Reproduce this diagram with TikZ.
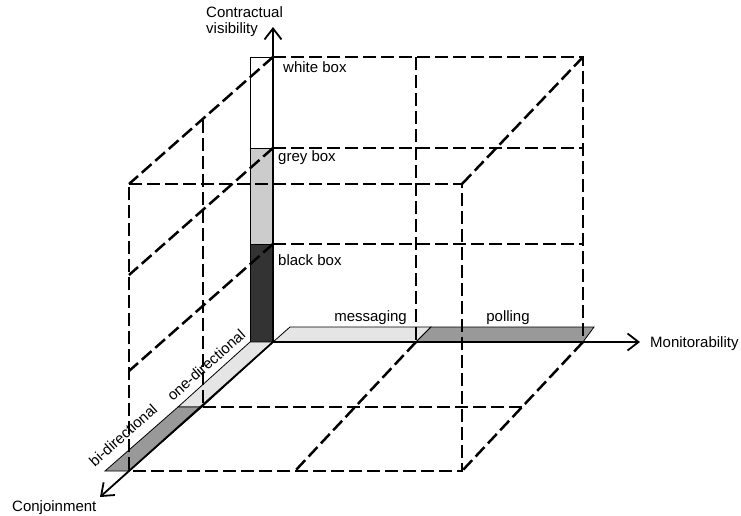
\documentclass[tikz,border=0pt]{standalone}
\usepackage{fontspec}
\setmainfont{Liberation Sans}
\usetikzlibrary{arrows.meta}
\begin{document}
\begin{tikzpicture}[x=1pt,y=-1pt,
  gridline/.style={line width=2.5pt, dash pattern=on 13pt off 5pt, line cap=butt},
  axisline/.style={line width=1.8pt, -{Straight Barb[length=11pt,width=17pt]}},
  barpart/.style={draw=black, line width=0.8pt, line join=miter},
  lbl/.style={font=\fontsize{15}{16}\selectfont, inner sep=0pt}]
\useasboundingbox (0,0) rectangle (741,515);

% origin and axis tips
\coordinate (O) at (273,342);
\coordinate (vtip) at (273,27);
\coordinate (htip) at (640,342);
\coordinate (dtip) at (100,497);

% back plane corners
\coordinate (b0) at (273,57);
\coordinate (bm) at (416,57);
\coordinate (br) at (583,57);
\coordinate (b1) at (273,148);
\coordinate (b2) at (273,244);
\coordinate (b1r) at (583,148);
\coordinate (b2r) at (583,244);
\coordinate (bmb) at (416,342);
\coordinate (brb) at (583,342);

% front plane corners
\coordinate (f0) at (129,184);
\coordinate (fr) at (462,184);
\coordinate (f1) at (129,275);
\coordinate (f2) at (129,371);
\coordinate (fb) at (129,471);
\coordinate (frb) at (462,471);
\coordinate (fmb) at (295,471);

% middle depth
\coordinate (m0) at (203,120);
\coordinate (mb) at (203,407);
\coordinate (mrb) at (523,407);

% ---- bars ----
% vertical bar
\filldraw[barpart, fill=white] (250,57) rectangle (273,148);
\filldraw[barpart, fill=black!20] (250,148) rectangle (273,244);
\filldraw[barpart, fill=black!80] (250,244) rectangle (273,342);
% horizontal bar
\filldraw[barpart, fill=black!10] (273,342) -- (416,342) -- (431,327) -- (290,327) -- cycle;
\filldraw[barpart, fill=black!40] (416,342) -- (583,342) -- (594,327) -- (431,327) -- cycle;
% depth bar
\filldraw[barpart, fill=black!10] (273,342) -- (250,342) -- (178,407) -- (202,407) -- cycle;
\filldraw[barpart, fill=black!40] (202,407) -- (178,407) -- (105,471) -- (129,471) -- cycle;

% ---- dashed grid ----
% back plane
\draw[gridline] (b0) -- (br) -- (brb);
\draw[gridline] (bm) -- (bmb);
\draw[gridline] (b1) -- (b1r);
\draw[gridline] (b2) -- (b2r);
% side plane
\draw[gridline] (b0) -- (f0);
\draw[gridline] (b1) -- (f1);
\draw[gridline] (b2) -- (f2);
\draw[gridline] (m0) -- (mb);
% front plane
\draw[gridline] (f0) -- (fr) -- (frb) -- (fb) -- cycle;
\draw[gridline] (br) -- (fr);
% bottom plane
\draw[gridline] (mb) -- (mrb);
\draw[gridline] (brb) -- (frb);
\draw[gridline] (bmb) -- (fmb);

% ---- axes ----
\draw[axisline] (O) -- (vtip);
\draw[axisline] (O) -- (htip);
\draw[axisline] (O) -- (dtip);

% ---- labels ----
\node[lbl, anchor=base west] (cv1) at (206,17) {Contractual};
\node[lbl, anchor=base west] (cv2) at (206,33) {visibility};
\node[lbl, anchor=base west] (mon) at (650,347) {Monitorability};
\node[lbl, anchor=base west] (con) at (12,511) {Conjoinment};
\node[lbl, anchor=west] (wb) at (283,67) {white box};
\node[lbl, anchor=west] (gb) at (278,158) {grey box};
\node[lbl, anchor=west] (kb) at (278,260) {black box};
\node[lbl, anchor=base east] (msg) at (407,321) {messaging};
\node[lbl, anchor=base] (pol) at (508,321) {polling};
\node[lbl, rotate=41.6] (one) at (206,365) {one-directional};
\node[lbl, rotate=41.6] (bi) at (123,435) {bi-directional};
\end{tikzpicture}
\end{document}
